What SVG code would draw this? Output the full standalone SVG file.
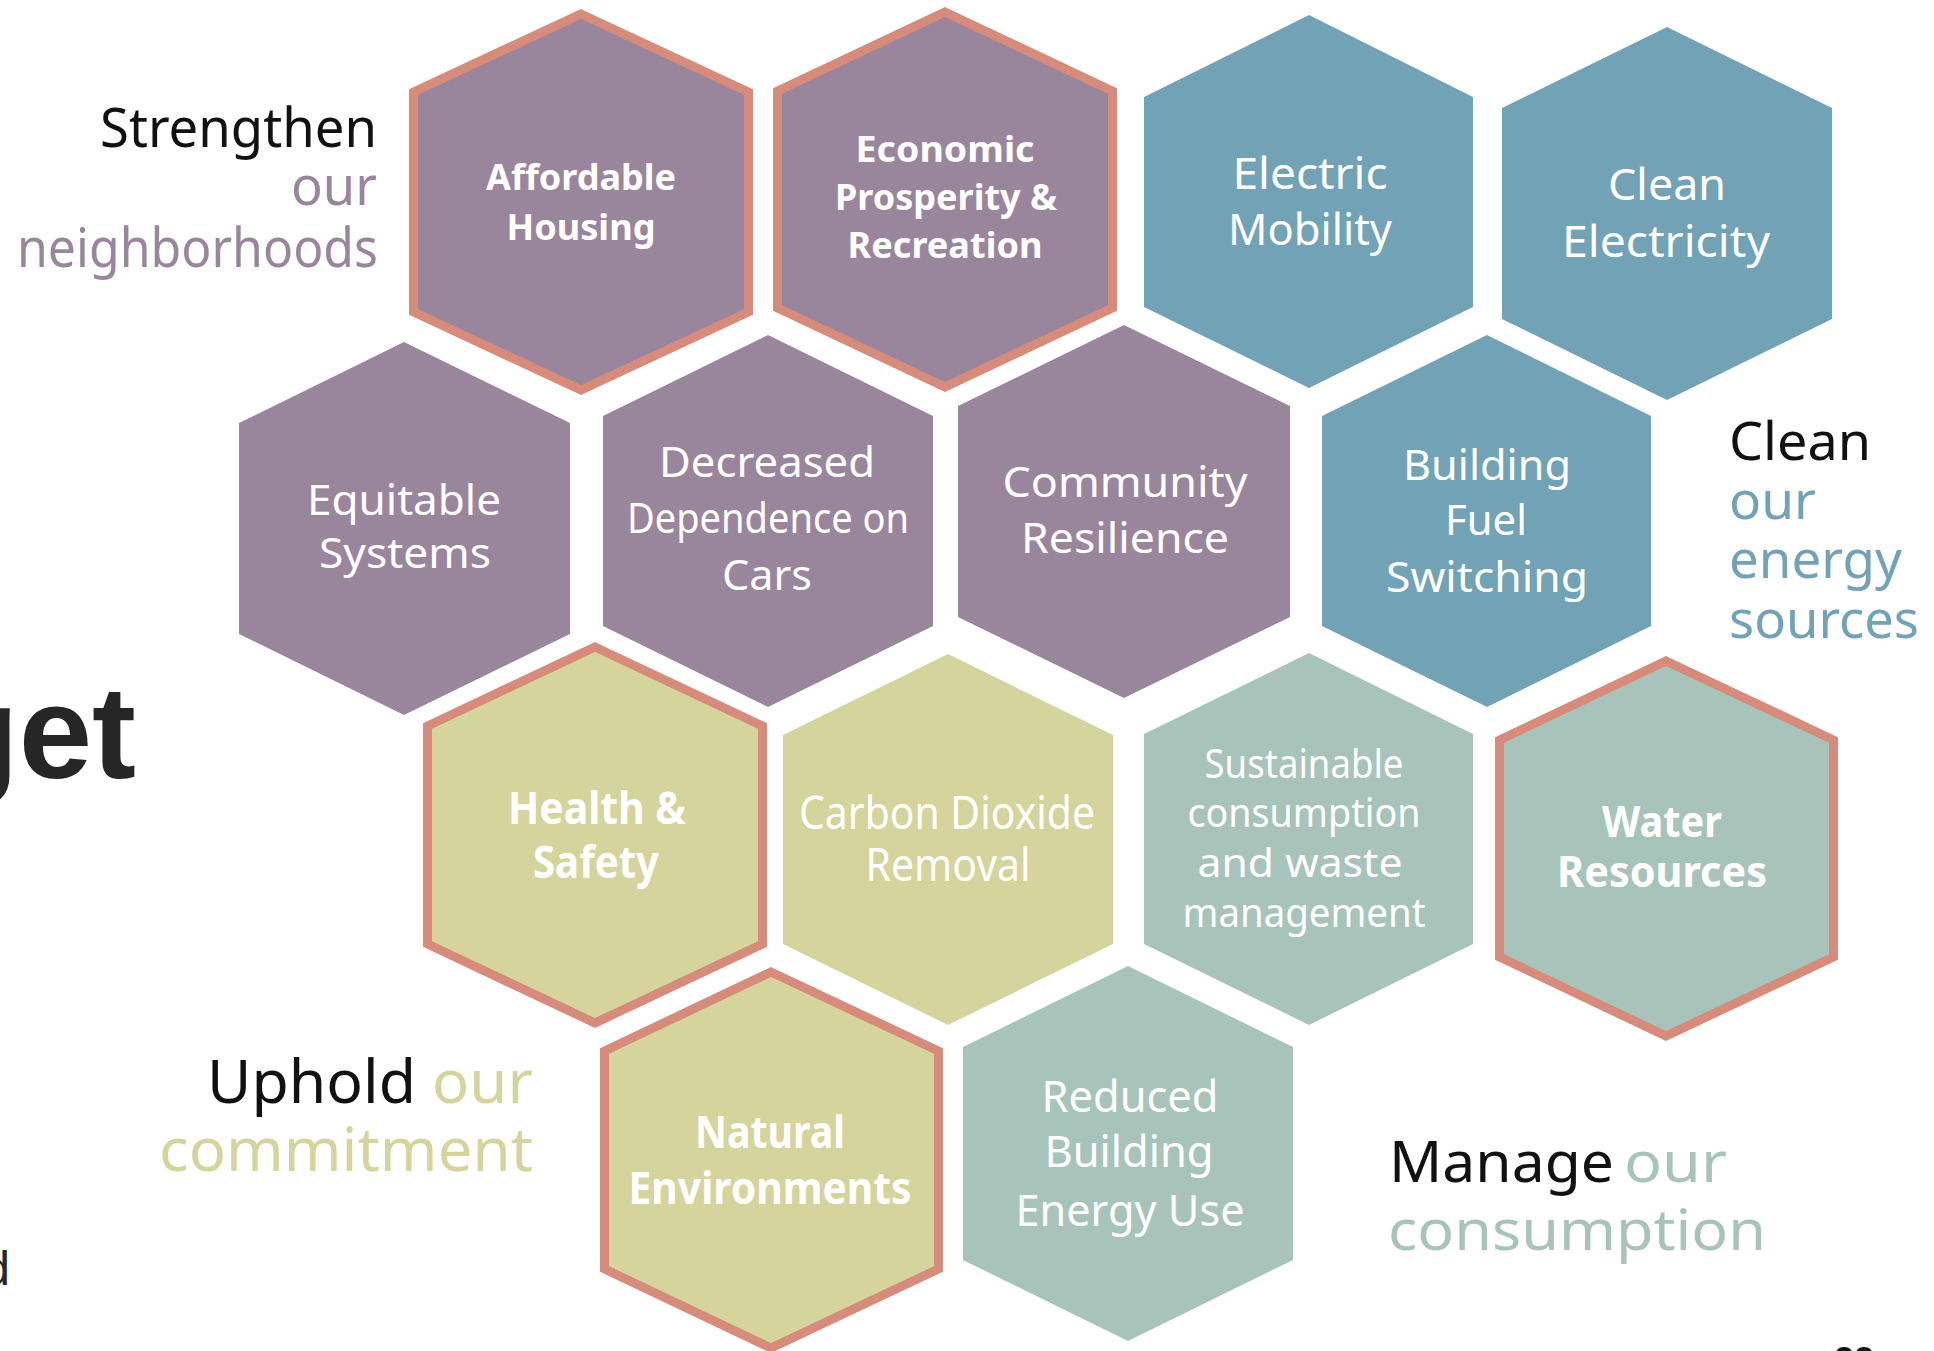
<svg xmlns="http://www.w3.org/2000/svg" width="1934" height="1351" viewBox="0 0 1934 1351">
<style>
.bg{fill:#ffffff}
.hex{stroke:none}
.pu{fill:#9a869c}
.bl{fill:#72a2b6}
.ye{fill:#d5d49c}
.te{fill:#a8c4ba}
.bd{stroke:#d68b7b;stroke-width:9;stroke-linejoin:miter}
.lab{font-family:"Noto Sans","Open Sans","Liberation Sans",sans-serif;fill:#ffffff;text-anchor:middle}
.b{font-weight:bold}
.side{font-family:"Noto Sans","Open Sans","Liberation Sans",sans-serif}
.k{fill:#111111}
.cpu{fill:#9a869c}
.cbl{fill:#72a2b6}
.cye{fill:#d5d49c}
.cte{fill:#a8c4ba}
</style>
<rect class="bg" x="0" y="0" width="1934" height="1351"/>
<g id="connectors"></g>

<g id="node-affordable-housing">
<polygon class="hex pu bd" points="581,14 748.5,92 748.5,312 581,390 413.5,312 413.5,92"/>
<text class="lab b" font-size="36" x="581" y="190" textLength="190" lengthAdjust="spacingAndGlyphs">Affordable</text>
<text class="lab b" font-size="36" x="581" y="240" textLength="149" lengthAdjust="spacingAndGlyphs">Housing</text>
</g>

<g id="node-economic-prosperity">
<polygon class="hex pu bd" points="945,12 1112.5,91 1112.5,308 945,387 777.5,308 777.5,91"/>
<text class="lab b" font-size="36" x="945" y="162" textLength="179" lengthAdjust="spacingAndGlyphs">Economic</text>
<text class="lab b" font-size="36" x="946" y="210" textLength="222" lengthAdjust="spacingAndGlyphs">Prosperity &amp;</text>
<text class="lab b" font-size="36" x="945" y="258" textLength="195" lengthAdjust="spacingAndGlyphs">Recreation</text>
</g>

<g id="node-electric-mobility">
<polygon class="hex bl" points="1309,15 1473,97 1473,307 1309,388 1144,307 1144,97"/>
<text class="lab" font-size="44" x="1310" y="189" textLength="155" lengthAdjust="spacingAndGlyphs">Electric</text>
<text class="lab" font-size="44" x="1310" y="245" textLength="164" lengthAdjust="spacingAndGlyphs">Mobility</text>
</g>

<g id="node-clean-electricity">
<polygon class="hex bl" points="1667,27 1832,108 1832,319 1667,400 1502,319 1502,108"/>
<text class="lab" font-size="44" x="1667" y="200" textLength="118" lengthAdjust="spacingAndGlyphs">Clean</text>
<text class="lab" font-size="44" x="1666" y="257" textLength="208" lengthAdjust="spacingAndGlyphs">Electricity</text>
</g>

<g id="node-equitable-systems">
<polygon class="hex pu" points="404,342 570,423 570,634 404,715 239,634 239,423"/>
<text class="lab" font-size="41" x="404" y="515" textLength="194" lengthAdjust="spacingAndGlyphs">Equitable</text>
<text class="lab" font-size="41" x="405" y="568" textLength="172" lengthAdjust="spacingAndGlyphs">Systems</text>
</g>

<g id="node-decreased-dependence">
<polygon class="hex pu" points="768,335 933,416 933,626 768,707 603,626 603,416"/>
<text class="lab" font-size="41" x="767" y="477" textLength="216" lengthAdjust="spacingAndGlyphs">Decreased</text>
<text class="lab" font-size="41" x="768" y="533" textLength="282" lengthAdjust="spacingAndGlyphs">Dependence on</text>
<text class="lab" font-size="41" x="767" y="590" textLength="90" lengthAdjust="spacingAndGlyphs">Cars</text>
</g>

<g id="node-community-resilience">
<polygon class="hex pu" points="1124,325 1290,406 1290,617 1124,698 958,617 958,406"/>
<text class="lab" font-size="42" x="1125" y="497" textLength="245" lengthAdjust="spacingAndGlyphs">Community</text>
<text class="lab" font-size="42" x="1125" y="553" textLength="208" lengthAdjust="spacingAndGlyphs">Resilience</text>
</g>

<g id="node-building-fuel-switching">
<polygon class="hex bl" points="1487,335 1651,416 1651,626 1487,707 1322,626 1322,416"/>
<text class="lab" font-size="42" x="1487" y="480" textLength="168" lengthAdjust="spacingAndGlyphs">Building</text>
<text class="lab" font-size="42" x="1486" y="535" textLength="82" lengthAdjust="spacingAndGlyphs">Fuel</text>
<text class="lab" font-size="42" x="1487" y="592" textLength="202" lengthAdjust="spacingAndGlyphs">Switching</text>
</g>

<g id="node-health-safety">
<polygon class="hex ye bd" points="595,647 762.5,726 762.5,944 595,1023 427.5,944 427.5,726"/>
<text class="lab b" font-size="44" x="597" y="824" textLength="178" lengthAdjust="spacingAndGlyphs">Health &amp;</text>
<text class="lab b" font-size="44" x="596" y="878" textLength="126" lengthAdjust="spacingAndGlyphs">Safety</text>
</g>

<g id="node-carbon-dioxide-removal">
<polygon class="hex ye" points="948,654 1113,735 1113,944 948,1025 783,944 783,735"/>
<text class="lab" font-size="45" x="947" y="829" textLength="296" lengthAdjust="spacingAndGlyphs">Carbon Dioxide</text>
<text class="lab" font-size="45" x="948" y="881" textLength="165" lengthAdjust="spacingAndGlyphs">Removal</text>
</g>

<g id="node-sustainable-consumption">
<polygon class="hex te" points="1309,653 1473,734 1473,944 1309,1025 1144,944 1144,734"/>
<text class="lab" font-size="40" x="1304" y="778" textLength="199" lengthAdjust="spacingAndGlyphs">Sustainable</text>
<text class="lab" font-size="40" x="1304" y="827" textLength="233" lengthAdjust="spacingAndGlyphs">consumption</text>
<text class="lab" font-size="40" x="1300" y="877" textLength="205" lengthAdjust="spacingAndGlyphs">and waste</text>
<text class="lab" font-size="40" x="1304" y="927" textLength="243" lengthAdjust="spacingAndGlyphs">management</text>
</g>

<g id="node-water-resources">
<polygon class="hex te bd" points="1666,661 1833.5,740 1833.5,957 1666,1036 1499.5,957 1499.5,740"/>
<text class="lab b" font-size="43" x="1662" y="837" textLength="120" lengthAdjust="spacingAndGlyphs">Water</text>
<text class="lab b" font-size="43" x="1662" y="887" textLength="210" lengthAdjust="spacingAndGlyphs">Resources</text>
</g>

<g id="node-natural-environments">
<polygon class="hex ye bd" points="771,972 938.5,1051 938.5,1269 771,1348 604.5,1269 604.5,1051"/>
<text class="lab b" font-size="44" x="770" y="1148" textLength="150" lengthAdjust="spacingAndGlyphs">Natural</text>
<text class="lab b" font-size="44" x="770" y="1204" textLength="283" lengthAdjust="spacingAndGlyphs">Environments</text>
</g>

<g id="node-reduced-building-energy">
<polygon class="hex te" points="1128,966 1293,1047 1293,1260 1128,1341 963,1260 963,1047"/>
<text class="lab" font-size="44" x="1130" y="1112" textLength="177" lengthAdjust="spacingAndGlyphs">Reduced</text>
<text class="lab" font-size="44" x="1129" y="1167" textLength="169" lengthAdjust="spacingAndGlyphs">Building</text>
<text class="lab" font-size="44" x="1130" y="1226" textLength="229" lengthAdjust="spacingAndGlyphs">Energy Use</text>
</g>

<g id="label-strengthen" class="side" font-size="54">
<text class="k" x="100" y="147" textLength="277" lengthAdjust="spacingAndGlyphs">Strengthen</text>
<text class="cpu" x="291" y="205" textLength="86" lengthAdjust="spacingAndGlyphs">our</text>
<text class="cpu" x="17" y="267" textLength="361" lengthAdjust="spacingAndGlyphs">neighborhoods</text>
</g>

<g id="label-clean" class="side" font-size="52">
<text class="k" x="1729" y="460" textLength="142" lengthAdjust="spacingAndGlyphs">Clean</text>
<text class="cbl" x="1729" y="519" textLength="87" lengthAdjust="spacingAndGlyphs">our</text>
<text class="cbl" x="1729" y="578" textLength="173" lengthAdjust="spacingAndGlyphs">energy</text>
<text class="cbl" x="1729" y="638" textLength="190" lengthAdjust="spacingAndGlyphs">sources</text>
</g>

<g id="label-uphold" class="side" font-size="60">
<text class="k" x="207" y="1103" textLength="209" lengthAdjust="spacingAndGlyphs">Uphold</text>
<text class="cye" x="432" y="1103" textLength="101" lengthAdjust="spacingAndGlyphs">our</text>
<text class="cye" x="159" y="1171" textLength="374" lengthAdjust="spacingAndGlyphs">commitment</text>
</g>

<g id="label-manage" class="side" font-size="57">
<text class="k" x="1389" y="1182" textLength="225" lengthAdjust="spacingAndGlyphs">Manage</text>
<text class="cte" x="1624" y="1182" textLength="103" lengthAdjust="spacingAndGlyphs">our</text>
<text class="cte" x="1388" y="1250" textLength="378" lengthAdjust="spacingAndGlyphs">consumption</text>
</g>

<g id="fragments">
<text x="136" y="778" font-family="'Liberation Sans',Arial,sans-serif" font-weight="bold" font-size="132" fill="#262626" text-anchor="end">get</text>
<text x="10" y="1285" font-family="'Liberation Sans',Arial,sans-serif" font-size="48" fill="#262626" text-anchor="end">d</text>
<text x="1834" y="1373" font-family="'Liberation Sans',Arial,sans-serif" font-weight="bold" font-size="36" fill="#111111">22</text>
</g>
</svg>
